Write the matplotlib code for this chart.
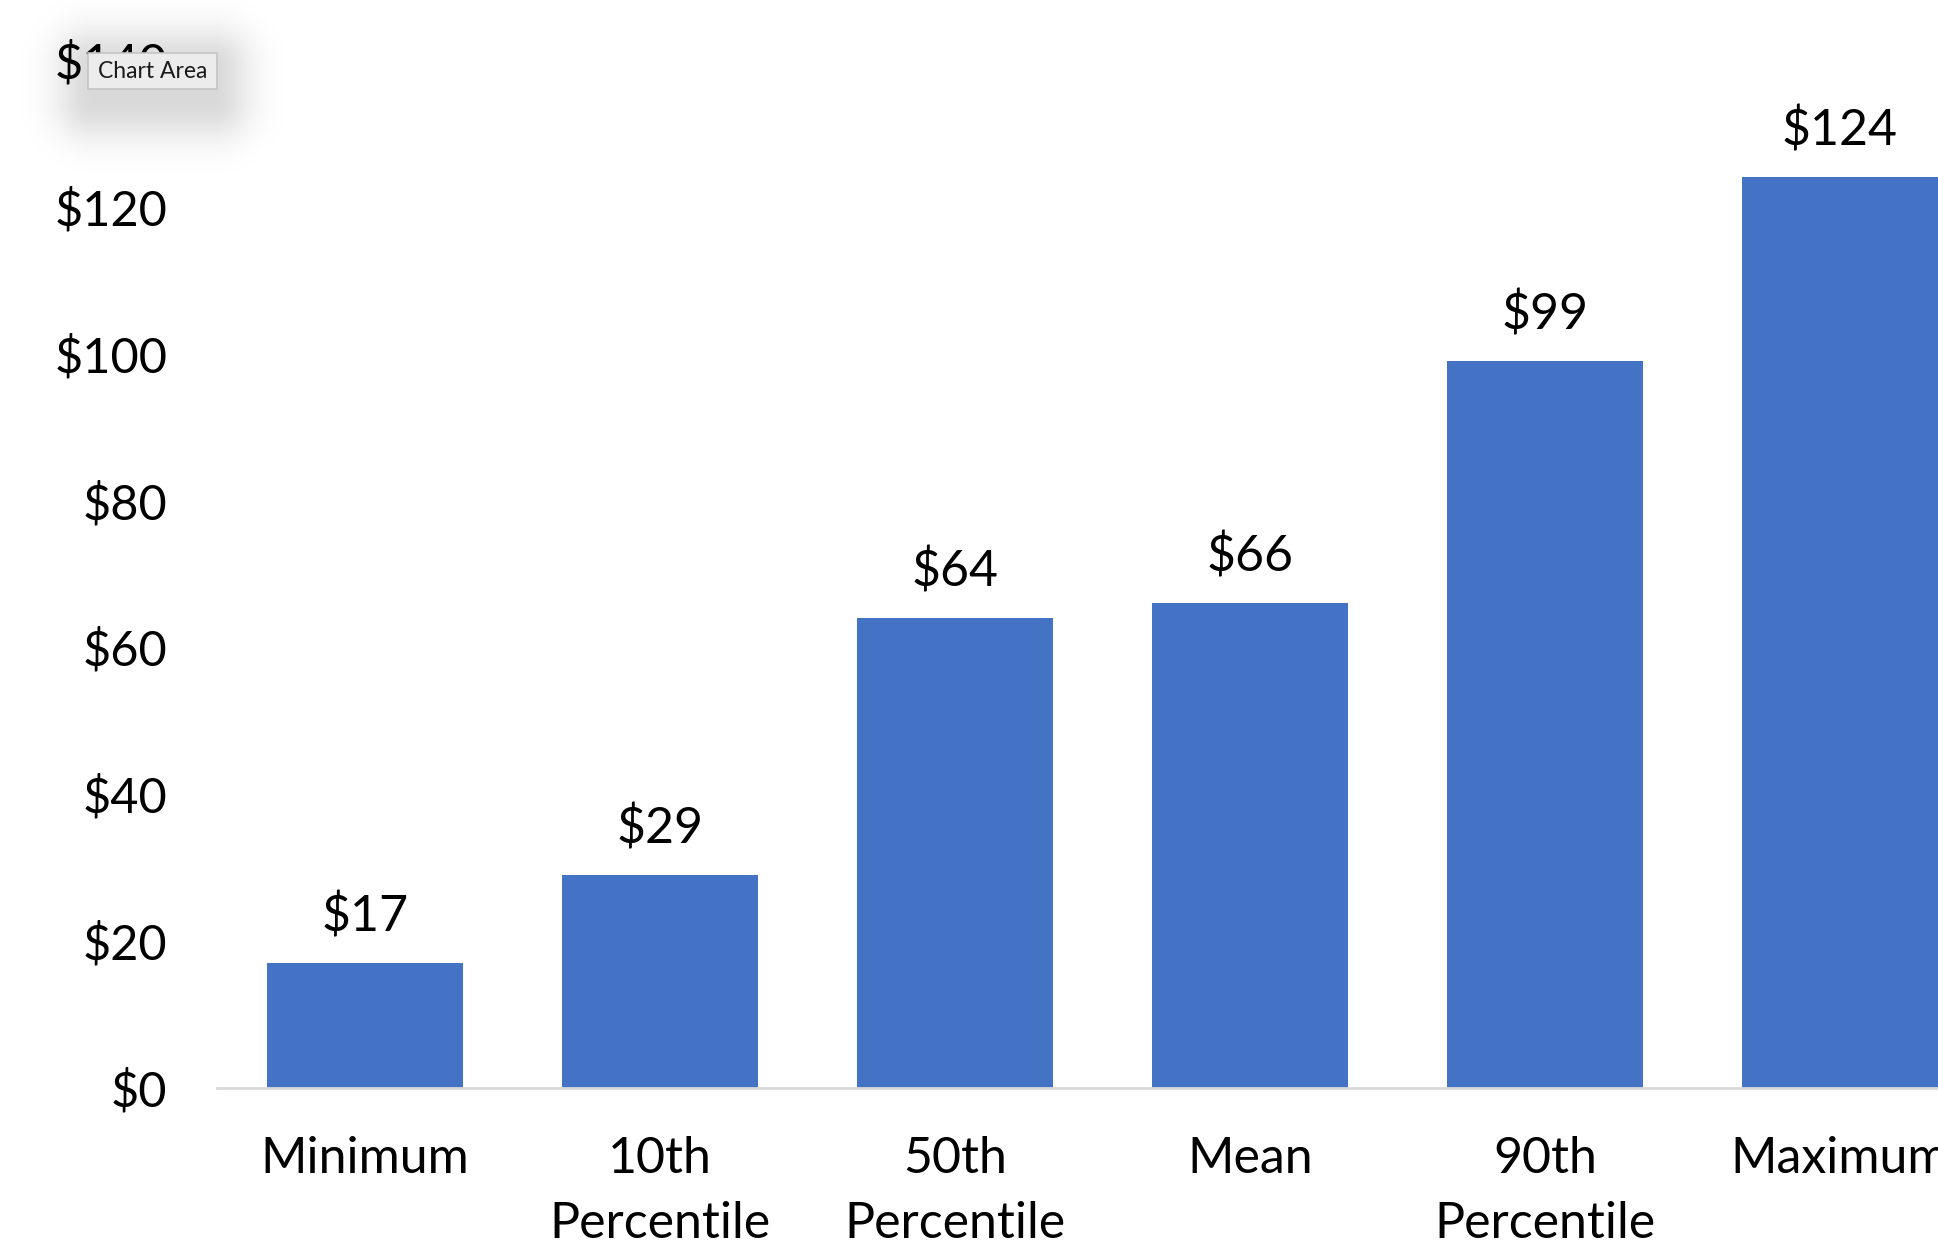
import matplotlib
matplotlib.use("Agg")
import matplotlib.pyplot as plt
from matplotlib.patches import Rectangle
import numpy as np

categories = ["Minimum", "10th\nPercentile", "50th\nPercentile", "Mean", "90th\nPercentile", "Maximum"]
values = [17, 29, 64, 66, 99, 124]
labels = ["$17", "$29", "$64", "$66", "$99", "$124"]
yticks = [0, 20, 40, 60, 80, 100, 120, 140]
ytick_labels = ["$0", "$20", "$40", "$60", "$80", "$100", "$120", "$140"]

W, H = 1938, 1245
fig = plt.figure(figsize=(W / 100, H / 100), dpi=100)
plt.rcParams['font.family'] = ['Lato', 'DejaVu Sans']

ax = fig.add_axes([217.5 / W, (H - 1087.7) / H, 1 - 217.5 / W, (1087.7 - 59.7) / H])
x = np.arange(len(categories))
ax.bar(x, values, width=0.666, color="#4472C4", zorder=2)
ax.set_xlim(-0.5, 5.333)
ax.set_ylim(0, 140)

for xi, v, lab in zip(x, values, labels):
    ax.annotate(lab, (xi, v), xytext=(0, 33), textcoords="offset points",
                ha="center", va="center", fontsize=36, color="black")

ax.set_yticks(yticks)
ax.set_yticklabels(ytick_labels, fontsize=35)
ax.set_xticks(x)
ax.set_xticklabels(categories, fontsize=36, linespacing=1.5, va="top")
ax.tick_params(axis="y", length=0, pad=36)
ax.tick_params(axis="x", length=0, pad=35)
for s in ["top", "right", "left"]:
    ax.spines[s].set_visible(False)
ax.spines["bottom"].set_color("#D9D9D9")
ax.spines["bottom"].set_linewidth(2.0)

# tooltip "Chart Area" with soft blurred shadow
bx0, by0, bx1, by1 = 87.7, 53, 217, 89
margin = 90
sw, shh = int(bx1 - bx0 + 2 * margin), int(by1 - by0 + 2 * margin)
yy, xx = np.mgrid[0:shh, 0:sw]
rx0, rx1 = margin + 5, margin + (bx1 - bx0) - 5
ry0, ry1 = margin + 12, margin + 12 + (by1 - by0)
dx = np.maximum(np.maximum(rx0 - xx, xx - rx1), 0)
dy = np.maximum(np.maximum(ry0 - yy, yy - ry1), 0)
d = np.hypot(dx, dy)
alpha = 0.15 * np.exp(-(d / 38.0) ** 2)
shadow = np.zeros((shh, sw, 4))
shadow[..., 3] = alpha
fig.figimage(shadow, xo=int(bx0 - margin), yo=int(H - (by0 - margin) - shh), origin="upper", zorder=9)

box = Rectangle((bx0 / W, 1 - by1 / H), (bx1 - bx0) / W, (by1 - by0) / H,
                transform=fig.transFigure, facecolor="#ECECEC", edgecolor="#C4C4C4",
                linewidth=1.2, zorder=11)
fig.add_artist(box)
fig.text((bx0 + bx1) / 2 / W, 1 - (by0 + by1) / 2 / H, "Chart Area", ha="center", va="center",
         fontsize=16.5, color="#1a1a1a", zorder=12, family=["Lato", "DejaVu Sans"])

fig.savefig("out.png", dpi=100, facecolor="white")
